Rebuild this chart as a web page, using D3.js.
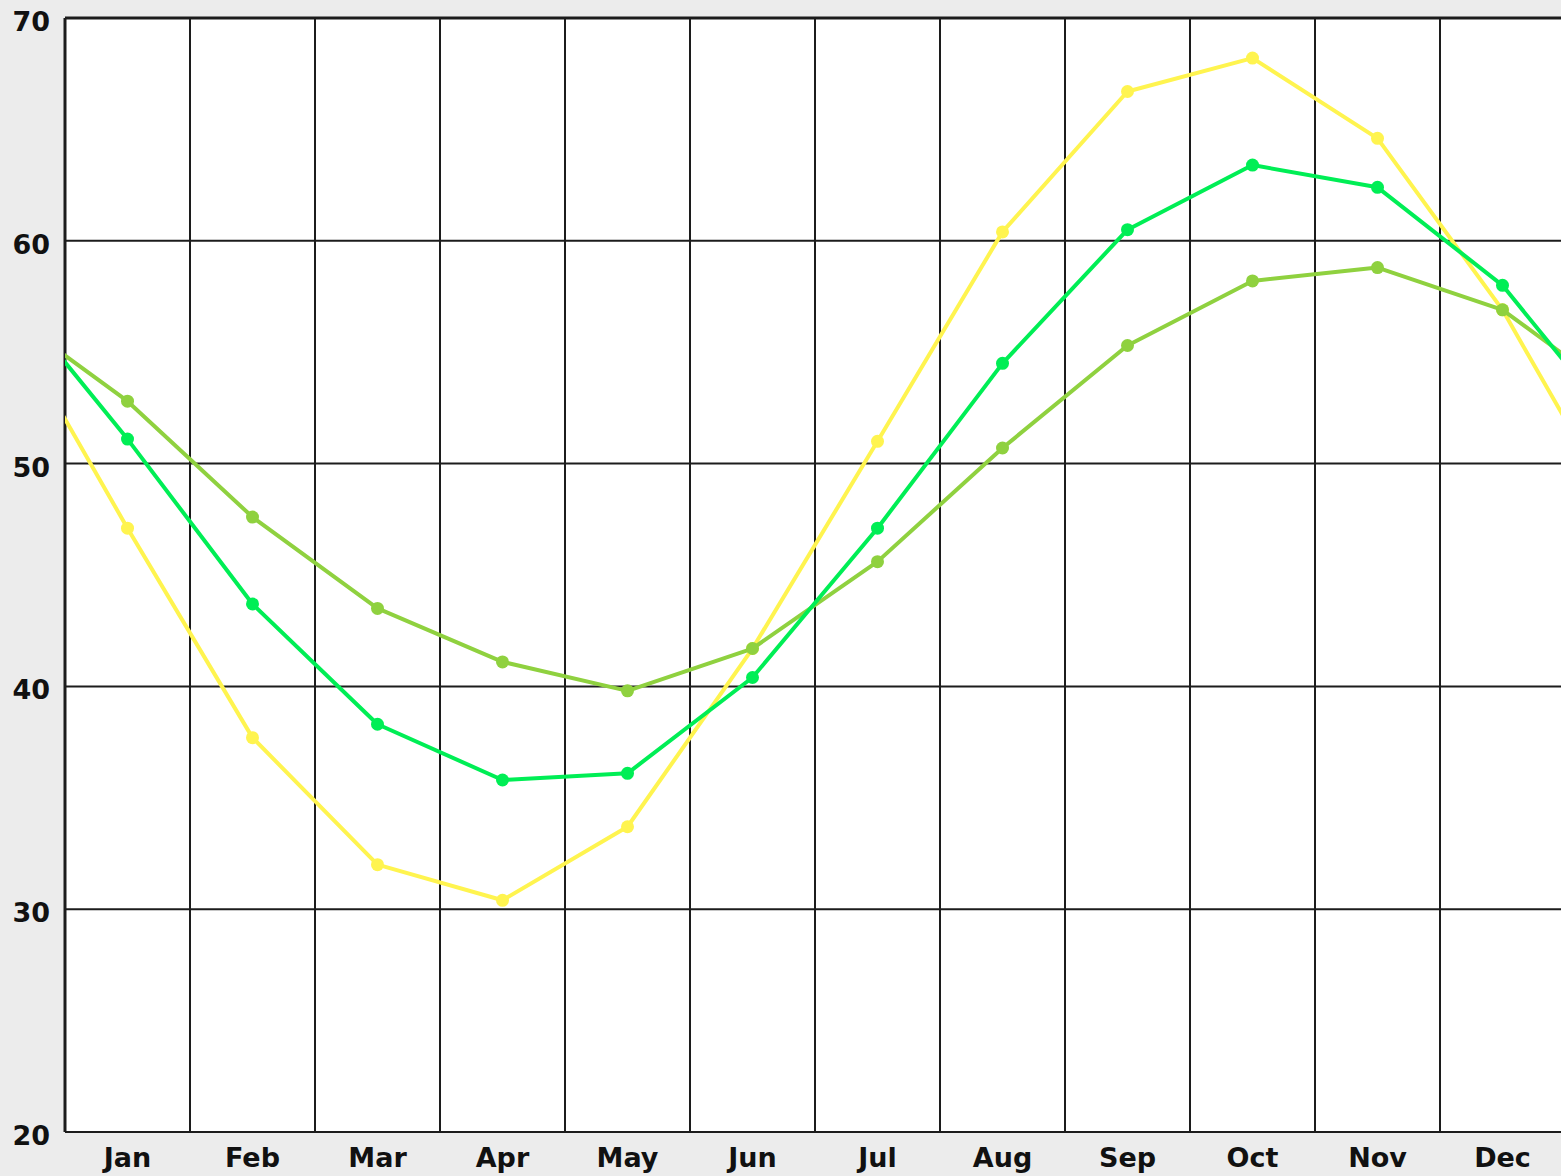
<!DOCTYPE html>
<html>
<head>
<meta charset="utf-8">
<script src="https://cdn.jsdelivr.net/npm/d3@7"></script>
<style>
  body { margin: 0; background: #ececec; }
  svg { display: block; }
  .lbl { font-family: "DejaVu Sans", sans-serif; font-weight: bold; font-size: 27px; fill: #111; }
</style>
</head>
<body>
<script>
// data
var months = ["Jan", "Feb", "Mar", "Apr", "May", "Jun", "Jul", "Aug", "Sep", "Oct", "Nov", "Dec"];
var yTicks = [20, 30, 40, 50, 60, 70];

var yellowVals = [47.1, 37.7, 32.0, 30.4, 33.7, 41.7, 51.0, 60.4, 66.7, 68.2, 64.6, 56.9];
var greenVals  = [51.1, 43.7, 38.3, 35.8, 36.1, 40.4, 47.1, 54.5, 60.5, 63.4, 62.4, 58.0];
var oliveVals  = [52.8, 47.6, 43.5, 41.1, 39.8, 41.7, 45.6, 50.7, 55.3, 58.2, 58.8, 56.9];

var series = [
  { name: "yellow", color: "#fff44f", values: yellowVals },
  { name: "olive",  color: "#8fd13f", values: oliveVals },
  { name: "green",  color: "#00ee55", values: greenVals }
];

// svg container
var svgWidth = 1561;
var svgHeight = 1176;

var margin = { top: 18, left: 65 };
var plotRight = 1565;
var plotBottom = 1132;

var svg = d3.select("body").append("svg")
    .attr("width", svgWidth)
    .attr("height", svgHeight);

// scales
var x = d3.scaleBand()
    .domain(months)
    .range([margin.left, plotRight])
    .paddingInner(0).paddingOuter(0);
var step = x.step();
var xc = m => x(m) + step / 2;

var y = d3.scaleLinear()
    .domain([20, 70])
    .range([plotBottom, margin.top]);

// plot background
svg.append("rect")
    .attr("x", margin.left)
    .attr("y", margin.top)
    .attr("width", plotRight - margin.left)
    .attr("height", plotBottom - margin.top)
    .attr("fill", "#fff");

svg.append("clipPath").attr("id", "plotClip")
  .append("rect")
    .attr("x", margin.left)
    .attr("y", margin.top)
    .attr("width", plotRight - margin.left)
    .attr("height", plotBottom - margin.top);

// grid
var grid = svg.append("g").attr("stroke", "#1c1c1c").attr("stroke-width", 2);
grid.selectAll("line.h")
    .data(yTicks)
    .enter().append("line")
    .attr("x1", margin.left).attr("x2", plotRight)
    .attr("y1", d => y(d)).attr("y2", d => y(d));
grid.selectAll("line.v")
    .data(months)
    .enter().append("line")
    .attr("x1", d => x(d)).attr("x2", d => x(d))
    .attr("y1", margin.top).attr("y2", plotBottom);
grid.append("line")
    .attr("x1", margin.left).attr("x2", plotRight)
    .attr("y1", margin.top).attr("y2", margin.top)
    .attr("stroke-width", 3);
grid.append("line")
    .attr("x1", margin.left).attr("x2", margin.left)
    .attr("y1", margin.top).attr("y2", plotBottom)
    .attr("stroke-width", 3);

// lines (wrap Dec before Jan and Jan after Dec, clipped)
var line = d3.line().x(d => d.x).y(d => y(d.v));
var plot = svg.append("g").attr("clip-path", "url(#plotClip)");

series.forEach(s => {
  var pts = s.values.map((v, i) => ({ x: xc(months[i]), v: v }));
  var ext = [{ x: xc(months[0]) - step, v: s.values[11] }]
    .concat(pts)
    .concat([{ x: xc(months[11]) + step, v: s.values[0] }]);

  plot.append("path")
      .datum(ext)
      .attr("d", line)
      .attr("fill", "none")
      .attr("stroke", s.color)
      .attr("stroke-width", 4)
      .attr("stroke-linejoin", "round");

  plot.selectAll(null)
      .data(pts)
      .enter().append("circle")
      .attr("cx", d => d.x)
      .attr("cy", d => y(d.v))
      .attr("r", 6.5)
      .attr("fill", s.color);
});

// axis labels
svg.selectAll("text.ylab")
    .data(yTicks)
    .enter().append("text")
    .attr("class", "lbl")
    .attr("x", 50)
    .attr("y", d => y(d) + 13)
    .attr("text-anchor", "end")
    .text(d => d);

svg.selectAll("text.xlab")
    .data(months)
    .enter().append("text")
    .attr("class", "lbl")
    .attr("x", d => xc(d))
    .attr("y", 1167)
    .attr("text-anchor", "middle")
    .text(d => d);
</script>
</body>
</html>
